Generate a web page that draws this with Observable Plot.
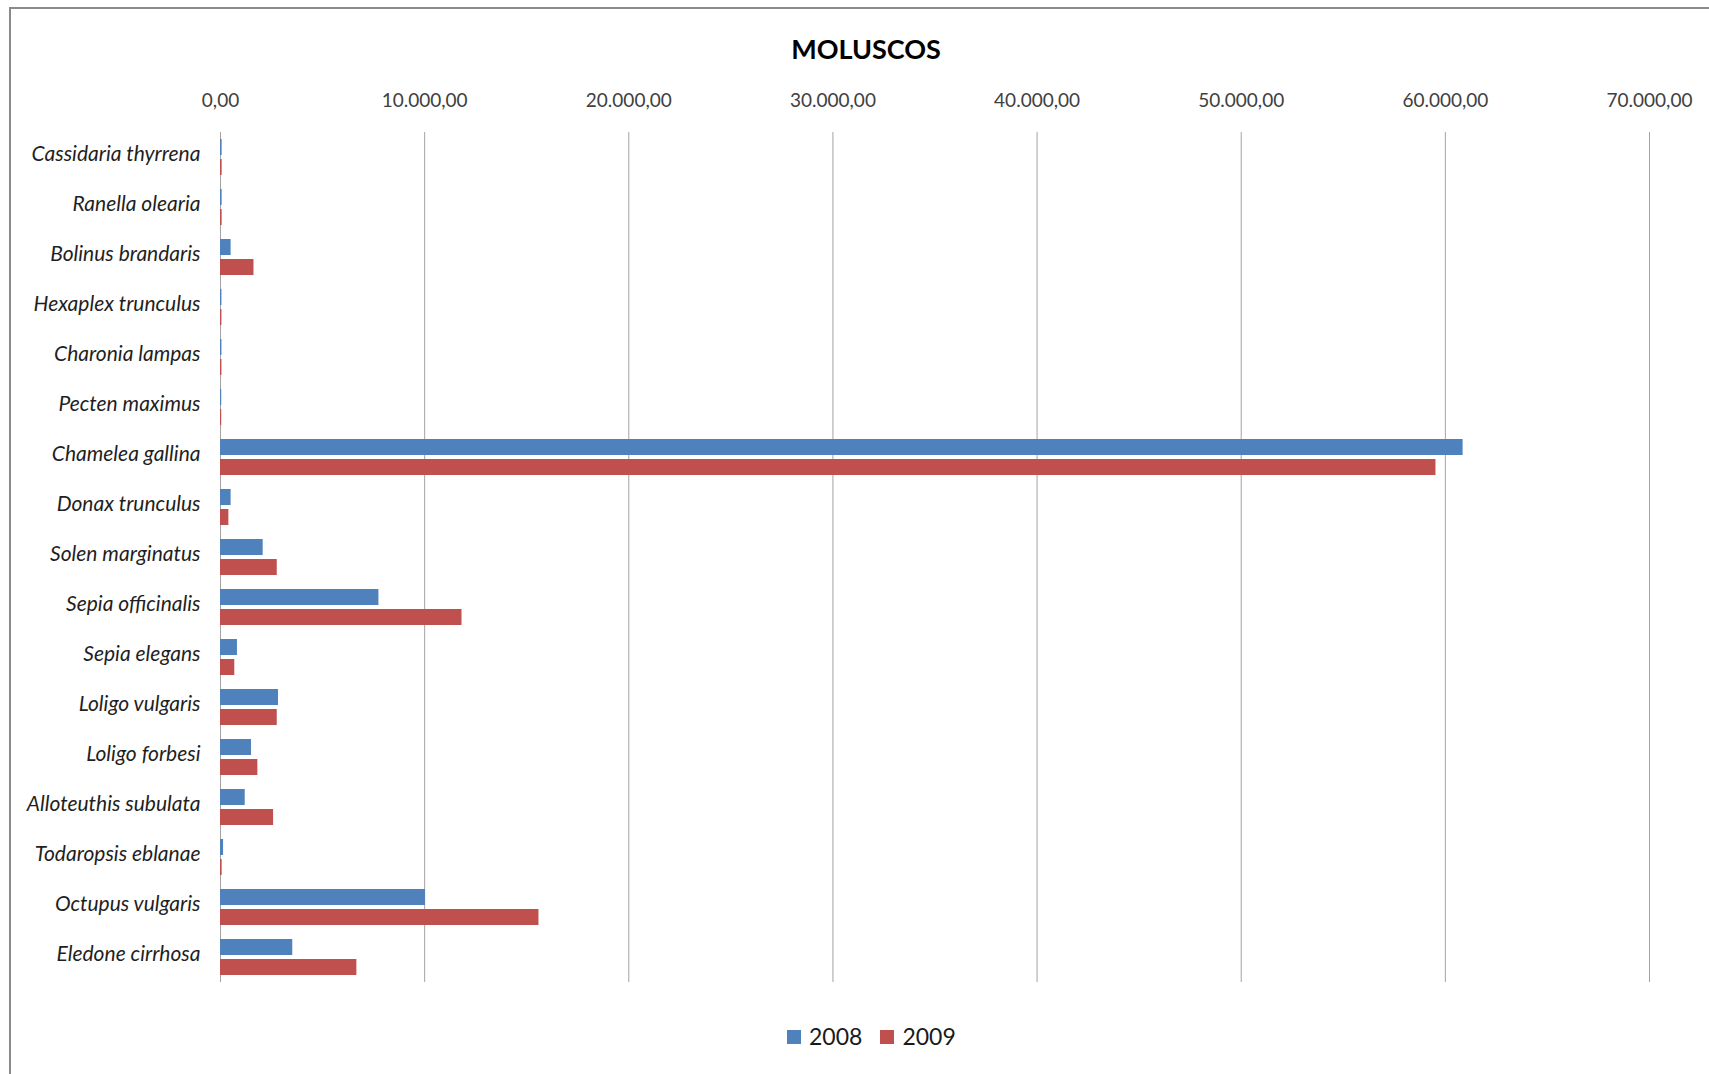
<!DOCTYPE html>
<html>
<head>
<meta charset="utf-8">
<script src="https://cdn.jsdelivr.net/npm/d3@7"></script>
<script src="https://cdn.jsdelivr.net/npm/@observablehq/plot@0.6"></script>
<style>
  html, body { margin: 0; padding: 0; background: #fff; overflow: hidden; }
  body { width: 1709px; height: 1074px; position: relative; font-family: Lato, "Open Sans", sans-serif; }
  #frame { position: absolute; left: 9px; top: 7px; width: 1800px; height: 1200px;
           border-left: 2px solid #8a8a8a; border-top: 2px solid #8a8a8a; }
  #title { position: absolute; left: 866px; top: 33px; transform: translateX(-50%);
           font: bold 27px/1.2 Lato, sans-serif; color: #000; white-space: nowrap; }
  #chart { position: absolute; left: 0; top: 0; }
  #chart svg [aria-label="fy-axis tick label"] text { font-style: italic; }
  #legend { position: absolute; left: 787px; top: 1023px; display: flex; align-items: center;
            font: 23px/1.2 Lato, sans-serif; color: #1a1a1a; white-space: nowrap; }
  #legend .sw { width: 14px; height: 14px; display: inline-block; margin-right: 8px; }
  #legend .item { display: flex; align-items: center; margin-right: 18px; }
</style>
</head>
<body>
<div id="frame"></div>
<div id="title">MOLUSCOS</div>
<div id="chart"></div>
<div id="legend"></div>
<script>
const species = [
  "Cassidaria thyrrena", "Ranella olearia", "Bolinus brandaris", "Hexaplex trunculus",
  "Charonia lampas", "Pecten maximus", "Chamelea gallina", "Donax trunculus",
  "Solen marginatus", "Sepia officinalis", "Sepia elegans", "Loligo vulgaris",
  "Loligo forbesi", "Alloteuthis subulata", "Todaropsis eblanae", "Octupus vulgaris",
  "Eledone cirrhosa"
];
const years = ["2008", "2009"];
const v2008 = [80, 80, 520, 70, 70, 60, 60870, 520, 2090, 7760, 830, 2840, 1520, 1210, 150, 10040, 3540];
const v2009 = [80, 80, 1640, 70, 70, 60, 59540, 410, 2780, 11830, 700, 2780, 1830, 2600, 80, 15600, 6680];
const xTicks = [0, 10000, 20000, 30000, 40000, 50000, 60000, 70000];
const colors = ["#4F81BD", "#C0504D"];

const rows = [];
species.forEach((s, i) => {
  rows.push({species: s, year: "2008", value: v2008[i]});
  rows.push({species: s, year: "2009", value: v2009[i]});
});

const locale = d3.formatLocale({decimal: ",", thousands: ".", grouping: [3], currency: ["", ""]});
const fmt = locale.format(",.2f");

const chart = Plot.plot({
  width: 1709,
  height: 1000,
  marginTop: 128,
  marginBottom: 15,
  marginLeft: 220,
  marginRight: 60,
  style: {fontFamily: "Lato, sans-serif", background: "transparent", overflow: "visible"},
  x: {domain: [0, 70000], axis: null},
  y: {domain: years, axis: null, paddingInner: 0.195, paddingOuter: 0.33},
  fy: {domain: species, padding: 0, axis: null},
  color: {domain: years, range: colors},
  marks: [
    Plot.ruleX(xTicks, {stroke: "#a3a3a3", strokeWidth: 1}),
    Plot.barX(rows, {x: "value", y: "year", fy: "species", fill: "year"}),
    Plot.axisX(xTicks, {anchor: "top", tickSize: 0, tickPadding: 26, tickFormat: fmt,
      fontSize: 19, fill: "#404040", label: null}),
    Plot.axisFy({anchor: "left", tickSize: 0, tickPadding: 20, fontSize: 21, dy: -3,
      fontStyle: "italic", fill: "#1f1f1f", label: null})
  ]
});
document.getElementById("chart").appendChild(chart);

const legend = document.getElementById("legend");
years.forEach((y, i) => {
  const item = document.createElement("span");
  item.className = "item";
  const sw = document.createElement("span");
  sw.className = "sw";
  sw.style.background = colors[i];
  item.appendChild(sw);
  item.appendChild(document.createTextNode(y));
  legend.appendChild(item);
});
</script>
</body>
</html>
